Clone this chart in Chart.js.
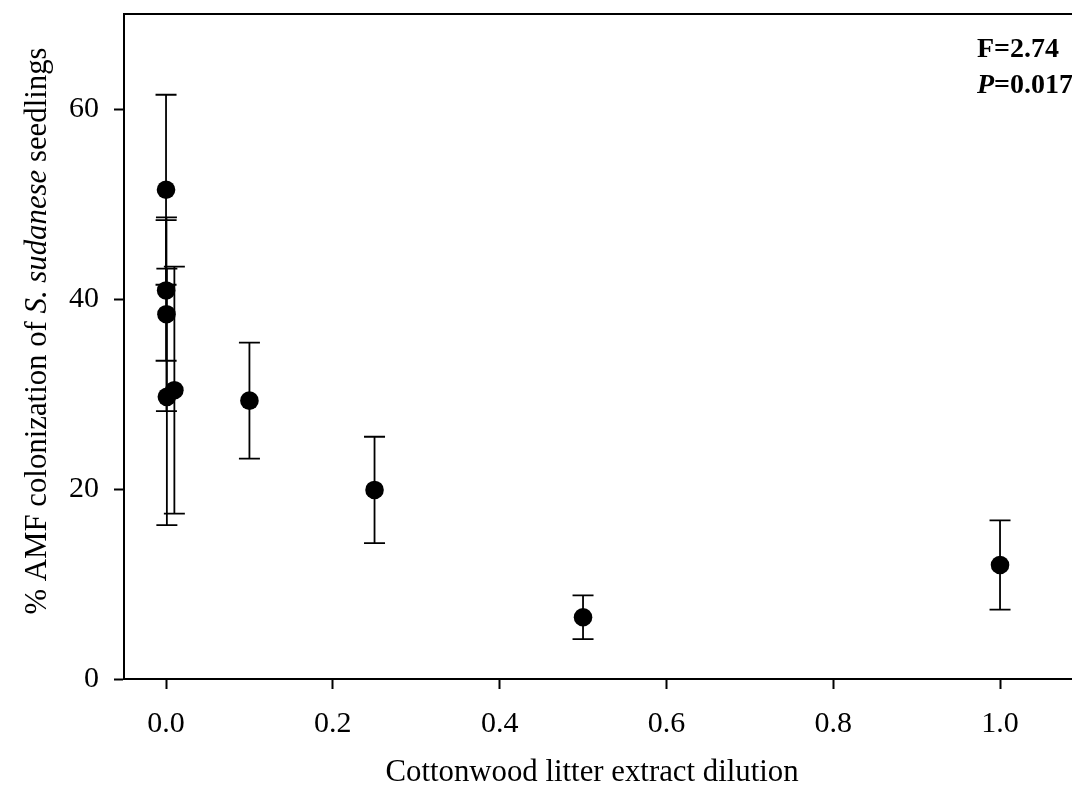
<!DOCTYPE html>
<html>
<head>
<meta charset="utf-8">
<script src="https://cdn.jsdelivr.net/npm/chart.js@4.4.1/dist/chart.umd.min.js"></script>
<style>
  html, body { margin: 0; padding: 0; background: #fff; overflow: hidden; }
  #wrap { width: 1072px; height: 796px; position: relative; }
</style>
</head>
<body>
<div id="wrap"><canvas id="c" width="1072" height="796"></canvas></div>
<script>
// Dilution of cottonwood litter extract (x) and AMF colonization (mean, ± error)
const dilution = [0, 0.0001, 0.0005, 0.001, 0.01, 0.1, 0.25, 0.5, 1.0];
const colonization = [51.5, 40.9, 38.4, 29.7, 30.4, 29.3, 19.9, 6.5, 12.0];
const errorBar = [10.0, 7.4, 10.2, 13.5, 13.0, 6.1, 5.6, 2.3, 4.7];
const xTicks = [0, 0.2, 0.4, 0.6, 0.8, 1.0];
const yTicks = [0, 20, 40, 60];

const serif = "'Liberation Serif', 'Times New Roman', serif";

// Vertical error bars with caps, drawn behind the markers
const errorBars = {
  id: 'errorBars',
  beforeDatasetsDraw(chart) {
    const ctx = chart.ctx, xs = chart.scales.x, ys = chart.scales.y;
    ctx.save();
    ctx.strokeStyle = '#000';
    ctx.lineWidth = 1.8;
    dilution.forEach((d, i) => {
      const px = xs.getPixelForValue(d);
      const top = ys.getPixelForValue(colonization[i] + errorBar[i]);
      const bot = ys.getPixelForValue(colonization[i] - errorBar[i]);
      ctx.beginPath();
      ctx.moveTo(px, top); ctx.lineTo(px, bot);
      ctx.moveTo(px - 10.5, top); ctx.lineTo(px + 10.5, top);
      ctx.moveTo(px - 10.5, bot); ctx.lineTo(px + 10.5, bot);
      ctx.stroke();
    });
    ctx.restore();
  }
};

// Frame top line, axis titles (italic species name) and test statistics
const decorations = {
  id: 'decorations',
  afterDraw(chart) {
    const ctx = chart.ctx, a = chart.chartArea;
    ctx.save();
    ctx.strokeStyle = '#000';
    ctx.lineWidth = 2;
    ctx.beginPath();
    ctx.moveTo(a.left - 1, a.top);
    ctx.lineTo(chart.width, a.top);
    ctx.stroke();

    ctx.fillStyle = '#000';
    const size = 30.8;

    // x-axis title
    ctx.font = `${size}px ${serif}`;
    ctx.textAlign = 'center';
    ctx.textBaseline = 'middle';
    ctx.fillText('Cottonwood litter extract dilution', 592, 773);

    // y-axis title
    const parts = [
      ['% AMF colonization of ', 'normal'],
      ['S. sudanese', 'italic'],
      [' seedlings', 'normal']
    ];
    let total = 0;
    parts.forEach(p => { ctx.font = `${p[1]} ${size}px ${serif}`; total += ctx.measureText(p[0]).width; });
    ctx.translate(38, 331);
    ctx.rotate(-Math.PI / 2);
    ctx.textAlign = 'left';
    let x = -total / 2;
    parts.forEach(p => {
      ctx.font = `${p[1]} ${size}px ${serif}`;
      ctx.fillText(p[0], x, 0);
      x += ctx.measureText(p[0]).width;
    });
    ctx.setTransform(1, 0, 0, 1, 0, 0);

    // statistics
    const left = 977;
    ctx.textBaseline = 'alphabetic';
    ctx.textAlign = 'left';
    ctx.font = `bold 28px ${serif}`;
    ctx.fillText('F=2.74', left, 57);
    ctx.font = `italic bold 28px ${serif}`;
    ctx.fillText('P', left, 93);
    const wP = ctx.measureText('P').width;
    ctx.font = `bold 28px ${serif}`;
    ctx.fillText('=0.017', left + wP, 93);
    ctx.restore();
  }
};

new Chart(document.getElementById('c'), {
  type: 'scatter',
  data: {
    datasets: [{
      data: dilution.map((d, i) => ({ x: d, y: colonization[i] })),
      backgroundColor: '#000',
      borderColor: '#000',
      pointRadius: 9.3,
      pointHoverRadius: 9.3,
      borderWidth: 0
    }]
  },
  options: {
    responsive: false,
    animation: false,
    events: [],
    layout: { autoPadding: false, padding: { top: 14, right: 0, left: 0, bottom: 0 } },
    plugins: { legend: { display: false }, tooltip: { enabled: false } },
    scales: {
      x: {
        type: 'linear',
        min: -0.0504,
        max: 1.0863,
        afterBuildTicks(scale) { scale.ticks = xTicks.map(v => ({ value: v })); },
        afterFit(scale) {
          scale.height = 117;
          scale.paddingLeft = 0; scale.paddingRight = 0;
        },
        grid: { display: true, drawOnChartArea: false, drawTicks: true, tickLength: 10, color: '#000', tickWidth: 2 },
        border: { display: true, color: '#000', width: 2 },
        ticks: {
          color: '#000',
          padding: 17,
          font: { family: serif, size: 30 },
          callback: v => Number(v).toFixed(1)
        }
      },
      y: {
        type: 'linear',
        min: 0,
        max: 70,
        afterBuildTicks(scale) { scale.ticks = yTicks.map(v => ({ value: v })); },
        afterFit(scale) {
          scale.width = 124;
          scale.paddingTop = 0; scale.paddingBottom = 0;
        },
        grid: { display: true, drawOnChartArea: false, drawTicks: true, tickLength: 10, color: '#000', tickWidth: 2 },
        border: { display: true, color: '#000', width: 2 },
        ticks: {
          color: '#000',
          padding: 15,
          font: { family: serif, size: 30 }
        }
      }
    }
  },
  plugins: [errorBars, decorations]
});
</script>
</body>
</html>
